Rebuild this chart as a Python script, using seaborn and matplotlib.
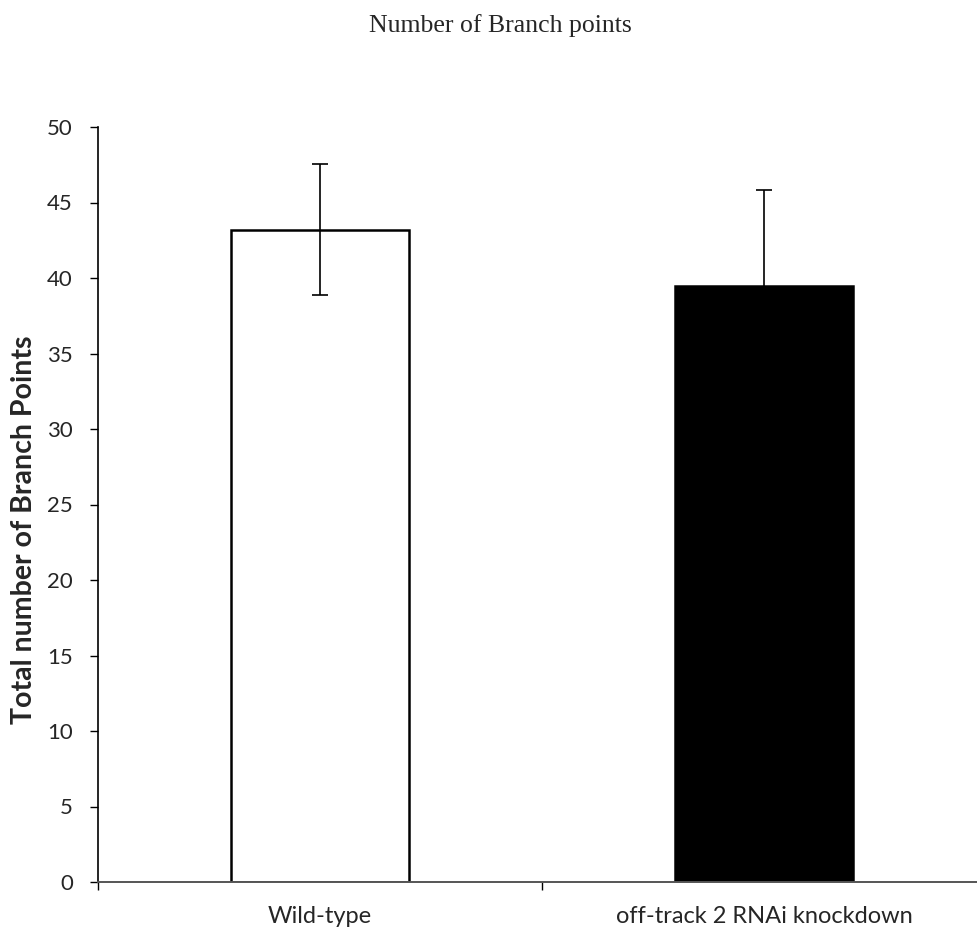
import matplotlib
matplotlib.use("Agg")
import matplotlib.pyplot as plt
import seaborn as sns
import pandas as pd

categories = ["Wild-type", "off-track 2 RNAi knockdown"]
means = [43.2, 39.5]
errors = [4.35, 6.3]
bar_colors = ["white", "black"]
yticks = [0, 5, 10, 15, 20, 25, 30, 35, 40, 45, 50]

sns.set_style("white")
plt.rcParams["font.family"] = ["Lato", "DejaVu Sans"]

df = pd.DataFrame({"cat": categories, "val": means})

fig = plt.figure(figsize=(9.78, 9.32), dpi=100)
ax = fig.add_axes([98 / 978, 50 / 932, 888 / 978, 755 / 932])

sns.barplot(data=df, x="cat", y="val", hue="cat", palette=bar_colors,
            width=0.4, edgecolor="black", linewidth=1.8, errorbar=None,
            legend=False, ax=ax)
ax.errorbar(range(len(categories)), means, yerr=errors, fmt="none",
            ecolor="black", elinewidth=1.2, capsize=6, capthick=1.2, zorder=5)

ax.set_xlim(-0.5, 1.5)
ax.set_ylim(0, 50)
ax.set_yticks(yticks)
ax.set_yticklabels([str(t) for t in yticks], fontsize=16)
ax.set_xticks(range(len(categories)))
ax.set_xticklabels(categories, fontsize=17)
ax.tick_params(axis="x", which="major", length=0, pad=17)
ax.set_xticks([-0.5, 0.5, 1.5], minor=True)
ax.tick_params(axis="x", which="minor", length=6, width=1, color="black", direction="out", bottom=True)
ax.tick_params(axis="y", length=6, width=1, color="black", direction="out", left=True, pad=12)

for s in ["top", "right"]:
    ax.spines[s].set_visible(False)
ax.spines["left"].set_color("black")
ax.spines["left"].set_linewidth(1.2)
ax.spines["bottom"].set_color("#555555")
ax.spines["bottom"].set_linewidth(1.4)

ax.set_xlabel("")
ax.set_ylabel("Total number of Branch Points", fontsize=20.5, fontweight="bold")
ax.yaxis.set_label_coords(-0.0833, 0.466)
ax.yaxis.label.set_va("center")

fig.text(500 / 978, 1 - 26 / 932, "Number of Branch points", ha="center", va="center",
         fontsize=18.5, family=["Liberation Serif"])

fig.savefig("out.png", dpi=100)
